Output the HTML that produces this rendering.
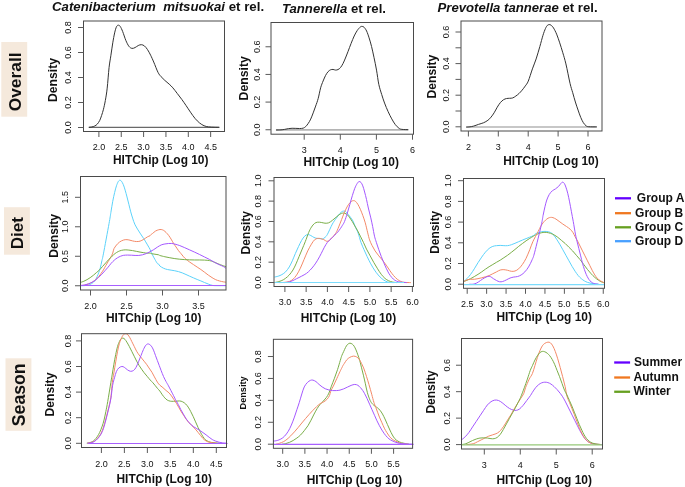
<!DOCTYPE html>
<html><head><meta charset="utf-8"><style>
html,body{margin:0;padding:0;background:#fff;}
body{width:685px;height:487px;overflow:hidden;font-family:"Liberation Sans", sans-serif;}
svg{display:block;will-change:transform;}
text{font-family:"Liberation Sans", sans-serif;}
</style></head><body>
<svg width="685" height="487" viewBox="0 0 685 487">
<rect width="100%" height="100%" fill="#fff"/>
<rect x="1.3" y="42" width="25.90" height="74.70" fill="#f5e9dc"/>
<text transform="translate(20.6,81.85) rotate(-90)" text-anchor="middle" font-weight="bold" font-size="17.4" fill="#111">Overall</text>
<rect x="4" y="207.2" width="25.90" height="47.50" fill="#f5e9dc"/>
<text transform="translate(23.3,233.1) rotate(-90)" text-anchor="middle" font-weight="bold" font-size="17.1" fill="#111">Diet</text>
<rect x="5.5" y="358.3" width="25.90" height="72.50" fill="#f5e9dc"/>
<text transform="translate(25.2,394.8) rotate(-90)" text-anchor="middle" font-weight="bold" font-size="17.7" fill="#111">Season</text>
<text x="52" y="11" font-weight="bold" font-size="13.25" fill="#111"><tspan font-style="italic">Catenibacterium&#160; mitsuokai</tspan> et rel.</text>
<text x="282" y="12.5" font-weight="bold" font-size="13.15" fill="#111"><tspan font-style="italic">Tannerella</tspan> et rel.</text>
<text x="437.6" y="11.5" font-weight="bold" font-size="13.15" fill="#111"><tspan font-style="italic">Prevotella tannerae</tspan> et rel.</text>
<line x1="88.7" y1="127.3" x2="219.3" y2="127.3" stroke="#444" stroke-width="1"/>
<clipPath id="c11"><rect x="83.0" y="21.0" width="142.0" height="110.5"/></clipPath>
<g clip-path="url(#c11)" fill="none" stroke-width="1" stroke-linejoin="round">
<path d="M88.96,127.34 C89.41,127.28 90.72,127.20 91.69,126.97 C92.66,126.74 93.86,126.45 94.79,125.98 C95.72,125.51 96.44,125.05 97.27,124.12 C98.10,123.19 99.03,121.84 99.75,120.39 C100.47,118.94 100.99,117.29 101.61,115.43 C102.23,113.57 102.85,111.71 103.47,109.23 C104.09,106.75 104.72,104.06 105.34,100.54 C105.96,97.02 106.58,93.61 107.20,88.13 C107.82,82.65 108.44,73.12 109.06,67.64 C109.68,62.16 110.30,59.37 110.92,55.23 C111.54,51.09 112.16,46.54 112.78,42.82 C113.40,39.10 114.02,35.58 114.64,32.89 C115.26,30.20 115.88,27.97 116.50,26.69 C117.12,25.41 117.74,25.24 118.36,25.20 C118.98,25.16 119.51,25.37 120.23,26.44 C120.95,27.52 121.78,29.33 122.71,31.65 C123.64,33.97 124.78,37.90 125.81,40.34 C126.84,42.78 127.88,44.95 128.91,46.29 C129.94,47.63 130.97,48.19 132.01,48.40 C133.04,48.61 134.09,48.01 135.12,47.53 C136.16,47.05 137.19,46.02 138.22,45.55 C139.25,45.07 140.29,44.62 141.32,44.68 C142.35,44.74 143.38,45.09 144.42,45.92 C145.45,46.75 146.50,48.09 147.53,49.64 C148.56,51.19 149.60,53.16 150.63,55.23 C151.66,57.30 152.50,59.20 153.73,62.05 C154.96,64.90 156.76,69.90 157.99,72.34 C159.22,74.78 159.95,75.34 161.09,76.68 C162.23,78.02 163.47,79.16 164.82,80.40 C166.16,81.64 167.82,82.88 169.16,84.12 C170.50,85.36 171.53,86.30 172.88,87.85 C174.22,89.40 175.74,91.50 177.23,93.43 C178.72,95.36 180.36,97.44 181.82,99.44 C183.28,101.44 184.53,103.28 185.98,105.41 C187.42,107.53 188.99,110.02 190.49,112.19 C192.00,114.36 193.50,116.61 195.01,118.40 C196.52,120.19 198.02,121.70 199.53,122.92 C201.04,124.14 202.55,125.08 204.05,125.74 C205.56,126.40 206.87,126.62 208.56,126.87 C210.25,127.12 212.42,127.13 214.21,127.21 C216.00,127.28 218.44,127.30 219.29,127.32" stroke="#333" stroke-width="1"/>
</g>
<rect x="83.5" y="21.0" width="141.0" height="110.5" fill="none" stroke="#4a4a4a" stroke-width="1"/>
<line x1="78.0" y1="127.50" x2="83.5" y2="127.50" stroke="#5a5a5a" stroke-width="1"/>
<line x1="78.0" y1="102.50" x2="83.5" y2="102.50" stroke="#5a5a5a" stroke-width="1"/>
<line x1="78.0" y1="77.50" x2="83.5" y2="77.50" stroke="#5a5a5a" stroke-width="1"/>
<line x1="78.0" y1="52.50" x2="83.5" y2="52.50" stroke="#5a5a5a" stroke-width="1"/>
<line x1="78.0" y1="27.50" x2="83.5" y2="27.50" stroke="#5a5a5a" stroke-width="1"/>
<text transform="translate(71.3,127.50) rotate(-90) scale(1,1.08)" text-anchor="middle" font-size="9" fill="#111">0.0</text>
<text transform="translate(71.3,102.50) rotate(-90) scale(1,1.08)" text-anchor="middle" font-size="9" fill="#111">0.2</text>
<text transform="translate(71.3,77.50) rotate(-90) scale(1,1.08)" text-anchor="middle" font-size="9" fill="#111">0.4</text>
<text transform="translate(71.3,52.50) rotate(-90) scale(1,1.08)" text-anchor="middle" font-size="9" fill="#111">0.6</text>
<text transform="translate(71.3,27.50) rotate(-90) scale(1,1.08)" text-anchor="middle" font-size="9" fill="#111">0.8</text>
<line x1="98.90" y1="131.5" x2="98.90" y2="137.0" stroke="#5a5a5a" stroke-width="1"/>
<text x="98.90" y="150" text-anchor="middle" font-size="9" fill="#111">2.0</text>
<line x1="121.25" y1="131.5" x2="121.25" y2="137.0" stroke="#5a5a5a" stroke-width="1"/>
<text x="121.25" y="150" text-anchor="middle" font-size="9" fill="#111">2.5</text>
<line x1="143.60" y1="131.5" x2="143.60" y2="137.0" stroke="#5a5a5a" stroke-width="1"/>
<text x="143.60" y="150" text-anchor="middle" font-size="9" fill="#111">3.0</text>
<line x1="165.95" y1="131.5" x2="165.95" y2="137.0" stroke="#5a5a5a" stroke-width="1"/>
<text x="165.95" y="150" text-anchor="middle" font-size="9" fill="#111">3.5</text>
<line x1="188.30" y1="131.5" x2="188.30" y2="137.0" stroke="#5a5a5a" stroke-width="1"/>
<text x="188.30" y="150" text-anchor="middle" font-size="9" fill="#111">4.0</text>
<line x1="210.65" y1="131.5" x2="210.65" y2="137.0" stroke="#5a5a5a" stroke-width="1"/>
<text x="210.65" y="150" text-anchor="middle" font-size="9" fill="#111">4.5</text>
<text transform="translate(57.2,80) rotate(-90)" text-anchor="middle" font-weight="bold" font-size="12.2" fill="#111">Density</text>
<text x="113" y="163.8" font-weight="bold" font-size="11.95" fill="#111">HITChip (Log 10)</text>
<line x1="276.1" y1="129.9" x2="408.3" y2="129.9" stroke="#b4b4b4" stroke-width="1.7"/>
<clipPath id="c12"><rect x="270.5" y="22.5" width="143.5" height="111.69999999999999"/></clipPath>
<g clip-path="url(#c12)" fill="none" stroke-width="1" stroke-linejoin="round">
<path d="M275.96,130.01 C276.79,129.99 279.48,129.98 280.93,129.88 C282.38,129.78 283.41,129.60 284.65,129.39 C285.89,129.18 287.13,128.83 288.37,128.64 C289.61,128.45 290.85,128.31 292.09,128.27 C293.33,128.23 294.58,128.35 295.82,128.39 C297.06,128.43 298.30,128.56 299.54,128.52 C300.78,128.48 302.23,128.48 303.26,128.15 C304.29,127.82 304.91,127.32 305.74,126.53 C306.57,125.74 307.40,124.67 308.23,123.43 C309.06,122.19 309.88,120.85 310.71,119.09 C311.54,117.33 312.36,115.05 313.19,112.88 C314.02,110.71 314.84,108.44 315.67,106.06 C316.50,103.68 317.32,101.65 318.15,98.61 C318.98,95.57 319.81,90.75 320.64,87.81 C321.47,84.87 322.29,83.06 323.12,80.99 C323.95,78.92 324.77,76.95 325.60,75.40 C326.43,73.85 327.25,72.61 328.08,71.68 C328.91,70.75 329.73,70.19 330.56,69.82 C331.39,69.45 332.21,69.41 333.04,69.45 C333.87,69.49 334.70,70.05 335.53,70.07 C336.36,70.09 337.18,69.98 338.01,69.57 C338.84,69.16 339.66,68.57 340.49,67.58 C341.32,66.59 342.14,65.20 342.97,63.61 C343.80,62.02 344.62,60.02 345.45,58.03 C346.28,56.04 347.02,54.09 347.96,51.66 C348.90,49.23 350.05,46.05 351.09,43.44 C352.13,40.83 353.16,38.16 354.20,35.99 C355.24,33.82 356.27,31.92 357.30,30.41 C358.33,28.90 359.57,27.59 360.40,26.93 C361.23,26.27 361.64,26.38 362.26,26.44 C362.88,26.50 363.39,26.54 364.12,27.31 C364.85,28.07 365.78,29.27 366.61,31.03 C367.44,32.79 368.26,35.27 369.09,37.85 C369.92,40.44 370.74,43.23 371.57,46.54 C372.40,49.85 373.22,53.78 374.05,57.71 C374.88,61.64 375.74,65.68 376.53,70.12 C377.32,74.56 377.95,80.32 378.81,84.37 C379.67,88.42 380.72,91.33 381.68,94.44 C382.64,97.55 383.48,100.19 384.56,103.06 C385.64,105.93 386.95,109.05 388.15,111.68 C389.35,114.32 390.55,116.71 391.75,118.87 C392.95,121.03 394.14,123.06 395.34,124.62 C396.54,126.18 397.85,127.42 398.93,128.21 C400.01,129.00 400.25,129.12 401.81,129.36 C403.37,129.60 407.20,129.60 408.28,129.65" stroke="#333" stroke-width="1"/>
</g>
<rect x="271.0" y="22.5" width="142.5" height="111.69999999999999" fill="none" stroke="#4a4a4a" stroke-width="1"/>
<line x1="265.5" y1="129.75" x2="271.0" y2="129.75" stroke="#5a5a5a" stroke-width="1"/>
<line x1="265.5" y1="102.09" x2="271.0" y2="102.09" stroke="#5a5a5a" stroke-width="1"/>
<line x1="265.5" y1="74.43" x2="271.0" y2="74.43" stroke="#5a5a5a" stroke-width="1"/>
<line x1="265.5" y1="46.77" x2="271.0" y2="46.77" stroke="#5a5a5a" stroke-width="1"/>
<text transform="translate(259.5,129.75) rotate(-90) scale(1,1.08)" text-anchor="middle" font-size="9" fill="#111">0.0</text>
<text transform="translate(259.5,102.09) rotate(-90) scale(1,1.08)" text-anchor="middle" font-size="9" fill="#111">0.2</text>
<text transform="translate(259.5,74.43) rotate(-90) scale(1,1.08)" text-anchor="middle" font-size="9" fill="#111">0.4</text>
<text transform="translate(259.5,46.77) rotate(-90) scale(1,1.08)" text-anchor="middle" font-size="9" fill="#111">0.6</text>
<line x1="304.20" y1="134.2" x2="304.20" y2="139.7" stroke="#5a5a5a" stroke-width="1"/>
<text x="304.20" y="152.7" text-anchor="middle" font-size="9" fill="#111">3</text>
<line x1="340.30" y1="134.2" x2="340.30" y2="139.7" stroke="#5a5a5a" stroke-width="1"/>
<text x="340.30" y="152.7" text-anchor="middle" font-size="9" fill="#111">4</text>
<line x1="376.40" y1="134.2" x2="376.40" y2="139.7" stroke="#5a5a5a" stroke-width="1"/>
<text x="376.40" y="152.7" text-anchor="middle" font-size="9" fill="#111">5</text>
<line x1="412.50" y1="134.2" x2="412.50" y2="139.7" stroke="#5a5a5a" stroke-width="1"/>
<text x="412.50" y="152.7" text-anchor="middle" font-size="9" fill="#111">6</text>
<text transform="translate(247.7,78.3) rotate(-90)" text-anchor="middle" font-weight="bold" font-size="12.25" fill="#111">Density</text>
<text x="303.5" y="165.7" font-weight="bold" font-size="11.95" fill="#111">HITChip (Log 10)</text>
<line x1="466.2" y1="127.0" x2="596.8" y2="127.0" stroke="#b4b4b4" stroke-width="1.7"/>
<clipPath id="c13"><rect x="460.5" y="21.0" width="142.0" height="110.0"/></clipPath>
<g clip-path="url(#c13)" fill="none" stroke-width="1" stroke-linejoin="round">
<path d="M466.20,127.08 C466.82,127.04 468.69,127.00 469.93,126.83 C471.17,126.66 472.20,126.50 473.65,126.09 C475.10,125.68 476.96,124.91 478.61,124.35 C480.26,123.79 482.03,123.42 483.58,122.74 C485.13,122.06 486.68,121.19 487.92,120.26 C489.16,119.33 489.99,118.39 491.02,117.15 C492.05,115.91 493.08,114.46 494.12,112.81 C495.16,111.16 496.20,108.93 497.23,107.23 C498.26,105.53 499.30,103.88 500.33,102.64 C501.36,101.40 502.40,100.46 503.43,99.78 C504.46,99.10 505.50,98.79 506.53,98.54 C507.56,98.29 508.60,98.39 509.64,98.29 C510.68,98.19 511.71,98.29 512.74,97.92 C513.77,97.55 514.81,96.78 515.84,96.06 C516.87,95.34 517.91,94.55 518.94,93.58 C519.97,92.61 521.00,91.47 522.04,90.23 C523.07,88.99 524.12,87.64 525.15,86.13 C526.18,84.62 527.04,84.05 528.25,81.17 C529.46,78.30 531.10,72.58 532.41,68.88 C533.72,65.18 534.89,62.67 536.13,58.95 C537.37,55.23 538.71,50.47 539.85,46.54 C540.99,42.61 542.03,38.37 542.96,35.37 C543.89,32.37 544.72,30.20 545.44,28.55 C546.16,26.90 546.68,26.11 547.30,25.45 C547.92,24.79 548.54,24.62 549.16,24.58 C549.78,24.54 550.30,24.64 551.02,25.20 C551.74,25.76 552.57,26.44 553.50,27.93 C554.43,29.42 555.58,31.65 556.61,34.13 C557.64,36.61 558.68,39.72 559.71,42.82 C560.74,45.92 561.78,49.23 562.81,52.74 C563.84,56.26 564.70,58.81 565.91,63.91 C567.12,69.01 568.91,78.55 570.04,83.35 C571.17,88.15 571.82,89.58 572.71,92.69 C573.60,95.80 574.49,99.14 575.38,102.03 C576.27,104.92 577.16,107.48 578.05,110.04 C578.94,112.60 579.83,115.27 580.72,117.38 C581.61,119.49 582.50,121.32 583.39,122.72 C584.28,124.12 585.17,125.12 586.06,125.79 C586.95,126.46 586.95,126.54 588.73,126.72 C590.51,126.90 595.40,126.84 596.74,126.86" stroke="#333" stroke-width="1"/>
</g>
<rect x="461.0" y="21.0" width="141.0" height="110.0" fill="none" stroke="#4a4a4a" stroke-width="1"/>
<line x1="455.5" y1="126.80" x2="461.0" y2="126.80" stroke="#5a5a5a" stroke-width="1"/>
<line x1="455.5" y1="111.00" x2="461.0" y2="111.00" stroke="#5a5a5a" stroke-width="1"/>
<line x1="455.5" y1="95.20" x2="461.0" y2="95.20" stroke="#5a5a5a" stroke-width="1"/>
<line x1="455.5" y1="79.40" x2="461.0" y2="79.40" stroke="#5a5a5a" stroke-width="1"/>
<line x1="455.5" y1="63.60" x2="461.0" y2="63.60" stroke="#5a5a5a" stroke-width="1"/>
<line x1="455.5" y1="47.80" x2="461.0" y2="47.80" stroke="#5a5a5a" stroke-width="1"/>
<line x1="455.5" y1="32.00" x2="461.0" y2="32.00" stroke="#5a5a5a" stroke-width="1"/>
<text transform="translate(448.5,126.80) rotate(-90) scale(1,1.08)" text-anchor="middle" font-size="9" fill="#111">0.0</text>
<text transform="translate(448.5,95.20) rotate(-90) scale(1,1.08)" text-anchor="middle" font-size="9" fill="#111">0.2</text>
<text transform="translate(448.5,63.60) rotate(-90) scale(1,1.08)" text-anchor="middle" font-size="9" fill="#111">0.4</text>
<text transform="translate(448.5,32.00) rotate(-90) scale(1,1.08)" text-anchor="middle" font-size="9" fill="#111">0.6</text>
<line x1="468.40" y1="131.0" x2="468.40" y2="136.5" stroke="#5a5a5a" stroke-width="1"/>
<text x="468.40" y="149.5" text-anchor="middle" font-size="9" fill="#111">2</text>
<line x1="498.30" y1="131.0" x2="498.30" y2="136.5" stroke="#5a5a5a" stroke-width="1"/>
<text x="498.30" y="149.5" text-anchor="middle" font-size="9" fill="#111">3</text>
<line x1="528.20" y1="131.0" x2="528.20" y2="136.5" stroke="#5a5a5a" stroke-width="1"/>
<text x="528.20" y="149.5" text-anchor="middle" font-size="9" fill="#111">4</text>
<line x1="558.10" y1="131.0" x2="558.10" y2="136.5" stroke="#5a5a5a" stroke-width="1"/>
<text x="558.10" y="149.5" text-anchor="middle" font-size="9" fill="#111">5</text>
<line x1="588.00" y1="131.0" x2="588.00" y2="136.5" stroke="#5a5a5a" stroke-width="1"/>
<text x="588.00" y="149.5" text-anchor="middle" font-size="9" fill="#111">6</text>
<text transform="translate(436.2,76.6) rotate(-90)" text-anchor="middle" font-weight="bold" font-size="12.1" fill="#111">Density</text>
<text x="503.25" y="164.7" font-weight="bold" font-size="11.95" fill="#111">HITChip (Log 10)</text>
<clipPath id="c21"><rect x="80.0" y="176.5" width="146.5" height="113.5"/></clipPath>
<g clip-path="url(#c21)" fill="none" stroke-width="1" stroke-linejoin="round">
<path d="M80.78,285.74 C81.43,285.71 83.38,285.69 84.68,285.58 C85.98,285.47 87.41,285.45 88.58,285.11 C89.75,284.77 90.66,284.26 91.70,283.55 C92.74,282.84 93.92,281.99 94.83,280.82 C95.74,279.65 96.52,277.89 97.17,276.53 C97.82,275.16 98.21,274.06 98.73,272.63 C99.25,271.20 99.77,269.90 100.29,267.95 C100.81,266.00 101.33,263.26 101.85,260.92 C102.37,258.58 102.22,260.11 103.41,253.90 C104.60,247.69 107.77,230.54 109.02,223.64 C110.27,216.73 110.26,216.19 110.88,212.47 C111.50,208.75 112.12,204.61 112.74,201.30 C113.36,197.99 113.99,195.20 114.61,192.61 C115.23,190.03 115.85,187.65 116.47,185.79 C117.09,183.93 117.75,182.38 118.33,181.45 C118.91,180.52 119.42,180.24 119.94,180.20 C120.46,180.16 120.87,180.47 121.43,181.20 C121.99,181.92 122.67,183.06 123.29,184.55 C123.91,186.04 124.53,188.06 125.15,190.13 C125.77,192.20 126.39,194.58 127.01,196.96 C127.63,199.34 128.26,201.92 128.88,204.40 C129.50,206.88 130.12,209.57 130.74,211.85 C131.36,214.12 131.88,215.88 132.60,218.05 C133.32,220.22 133.84,222.37 135.08,224.88 C136.32,227.39 138.59,230.80 140.04,233.10 C141.49,235.40 142.53,236.72 143.77,238.69 C145.01,240.66 146.45,243.12 147.49,244.89 C148.53,246.66 149.38,248.07 150.00,249.31 C150.62,250.55 150.80,251.41 151.21,252.34 C151.62,253.27 151.86,253.69 152.48,254.89 C153.10,256.08 154.12,258.06 154.95,259.51 C155.78,260.96 156.83,262.81 157.45,263.58 C158.07,264.35 158.25,263.71 158.66,264.12 C159.07,264.53 159.10,265.37 159.93,266.06 C160.76,266.75 162.41,267.71 163.65,268.29 C164.89,268.87 166.13,269.22 167.37,269.53 C168.61,269.84 169.85,269.94 171.09,270.15 C172.33,270.36 173.58,270.52 174.82,270.77 C176.06,271.02 177.30,271.29 178.54,271.64 C179.78,271.99 181.02,272.40 182.26,272.88 C183.50,273.36 184.75,273.94 185.99,274.50 C187.23,275.06 188.47,275.67 189.71,276.23 C190.95,276.79 192.19,277.31 193.43,277.85 C194.67,278.39 195.91,278.94 197.15,279.46 C198.39,279.98 199.64,280.43 200.88,280.95 C202.12,281.47 203.36,282.04 204.60,282.56 C205.84,283.08 207.08,283.60 208.32,284.05 C209.56,284.50 210.80,285.02 212.04,285.29 C213.28,285.56 213.45,285.60 215.77,285.66 C218.09,285.72 224.25,285.66 225.94,285.66" stroke="#5cd2fa" stroke-width="1"/>
<path d="M80.78,285.50 C81.43,285.44 83.38,285.37 84.68,285.11 C85.98,284.85 87.28,284.46 88.58,283.94 C89.88,283.42 91.31,282.71 92.48,281.99 C93.65,281.27 94.57,280.56 95.61,279.65 C96.65,278.74 97.82,277.57 98.73,276.53 C99.64,275.49 100.29,274.52 101.07,273.41 C101.85,272.31 102.63,271.20 103.41,269.90 C104.19,268.60 104.97,266.98 105.75,265.61 C106.53,264.24 107.31,263.00 108.09,261.70 C108.87,260.40 109.65,259.23 110.43,257.80 C111.21,256.37 112.18,254.65 112.77,253.12 C113.36,251.59 113.17,250.19 113.99,248.61 C114.81,247.03 116.47,244.93 117.71,243.65 C118.95,242.37 120.19,241.58 121.43,240.92 C122.67,240.26 123.91,239.84 125.15,239.68 C126.39,239.52 127.64,239.72 128.88,239.93 C130.12,240.14 131.36,240.65 132.60,240.92 C133.84,241.19 135.08,241.50 136.32,241.54 C137.56,241.58 138.80,241.54 140.04,241.17 C141.28,240.80 142.53,240.03 143.77,239.31 C145.01,238.59 146.45,237.41 147.49,236.82 C148.53,236.22 149.38,236.15 150.00,235.74 C150.62,235.33 150.80,234.71 151.21,234.34 C151.62,233.97 151.75,234.05 152.48,233.50 C153.21,232.95 154.55,231.64 155.58,231.02 C156.62,230.40 157.76,230.03 158.69,229.78 C159.62,229.53 160.34,229.43 161.17,229.53 C162.00,229.63 162.82,229.90 163.65,230.40 C164.48,230.90 165.30,231.68 166.13,232.51 C166.96,233.34 167.78,234.26 168.61,235.36 C169.44,236.46 170.26,237.75 171.09,239.09 C171.92,240.44 172.75,242.11 173.58,243.43 C174.41,244.75 175.23,245.78 176.06,246.99 C176.89,248.20 177.71,249.60 178.54,250.71 C179.37,251.82 180.19,252.64 181.02,253.65 C181.85,254.66 182.67,255.82 183.50,256.75 C184.33,257.68 184.96,258.34 185.99,259.23 C187.03,260.12 188.47,261.20 189.71,262.09 C190.95,262.98 192.19,263.74 193.43,264.57 C194.67,265.40 195.91,266.22 197.15,267.05 C198.39,267.88 199.64,268.66 200.88,269.53 C202.12,270.40 203.36,271.33 204.60,272.26 C205.84,273.19 207.08,274.23 208.32,275.12 C209.56,276.01 210.80,276.84 212.04,277.60 C213.28,278.37 214.53,279.15 215.77,279.71 C217.01,280.27 218.25,280.60 219.49,280.95 C220.73,281.30 222.14,281.61 223.21,281.82 C224.28,282.03 225.49,282.13 225.94,282.19" stroke="#f38a68" stroke-width="1"/>
<path d="M80.78,282.38 C81.30,282.19 82.86,281.66 83.90,281.21 C84.94,280.75 85.98,280.23 87.02,279.65 C88.06,279.06 89.10,278.41 90.14,277.70 C91.18,276.99 92.22,276.21 93.26,275.36 C94.30,274.51 95.35,273.54 96.39,272.63 C97.43,271.72 98.47,270.94 99.51,269.90 C100.55,268.86 101.59,267.56 102.63,266.39 C103.67,265.22 104.71,264.04 105.75,262.87 C106.79,261.70 107.83,260.47 108.87,259.36 C109.91,258.25 110.95,257.22 111.99,256.24 C113.03,255.27 114.07,254.29 115.11,253.51 C116.15,252.73 117.19,252.08 118.23,251.56 C119.27,251.04 120.21,250.67 121.36,250.39 C122.51,250.10 123.90,249.90 125.15,249.85 C126.40,249.80 127.64,249.97 128.88,250.10 C130.12,250.22 131.36,250.39 132.60,250.60 C133.84,250.81 135.08,251.09 136.32,251.34 C137.56,251.59 138.80,251.86 140.04,252.09 C141.28,252.32 142.53,252.53 143.77,252.71 C145.01,252.90 146.45,253.15 147.49,253.20 C148.53,253.25 149.38,252.97 150.00,253.03 C150.62,253.09 150.39,253.38 151.21,253.58 C152.03,253.78 153.71,254.02 154.95,254.23 C156.19,254.44 157.83,254.61 158.66,254.82 C159.49,255.03 158.89,255.19 159.93,255.51 C160.97,255.83 163.24,256.38 164.89,256.75 C166.54,257.12 168.19,257.43 169.85,257.74 C171.50,258.05 173.16,258.36 174.82,258.61 C176.47,258.86 178.13,259.06 179.78,259.23 C181.43,259.40 183.09,259.51 184.74,259.61 C186.40,259.71 188.06,259.79 189.71,259.85 C191.37,259.91 193.01,259.96 194.67,259.98 C196.32,260.00 197.98,259.96 199.64,259.98 C201.29,260.00 202.95,260.00 204.60,260.10 C206.25,260.20 208.11,260.33 209.56,260.60 C211.01,260.87 212.04,261.27 213.28,261.72 C214.52,262.18 215.77,262.81 217.01,263.33 C218.25,263.85 219.24,264.26 220.73,264.82 C222.22,265.38 225.07,266.37 225.94,266.68" stroke="#7aae48" stroke-width="1"/>
<path d="M80.78,285.50 C81.43,285.41 83.38,285.25 84.68,284.96 C85.98,284.67 87.28,284.29 88.58,283.79 C89.88,283.30 91.31,282.62 92.48,281.99 C93.65,281.37 94.57,280.82 95.61,280.04 C96.65,279.26 97.69,278.29 98.73,277.31 C99.77,276.33 100.81,275.30 101.85,274.19 C102.89,273.08 103.93,271.85 104.97,270.68 C106.01,269.51 107.05,268.41 108.09,267.17 C109.13,265.93 110.17,264.43 111.21,263.26 C112.25,262.09 113.29,261.05 114.33,260.14 C115.37,259.23 116.41,258.45 117.45,257.80 C118.49,257.15 119.53,256.66 120.57,256.24 C121.61,255.83 122.52,255.50 123.70,255.31 C124.88,255.12 126.36,255.09 127.64,255.07 C128.92,255.05 130.12,255.13 131.36,255.19 C132.60,255.25 133.84,255.40 135.08,255.44 C136.32,255.48 137.56,255.54 138.80,255.44 C140.04,255.34 141.29,255.13 142.53,254.82 C143.77,254.51 145.01,254.10 146.25,253.58 C147.49,253.06 148.73,252.38 149.97,251.72 C151.21,251.06 152.47,250.41 153.71,249.64 C154.95,248.87 156.19,247.88 157.43,247.10 C158.67,246.32 159.93,245.48 161.17,244.96 C162.41,244.44 163.65,244.22 164.89,243.97 C166.13,243.72 167.47,243.55 168.61,243.47 C169.75,243.39 170.69,243.37 171.72,243.47 C172.75,243.57 173.48,243.74 174.82,244.09 C176.16,244.44 178.13,244.98 179.78,245.58 C181.43,246.18 183.09,246.97 184.74,247.69 C186.40,248.41 188.06,249.19 189.71,249.93 C191.37,250.68 193.01,251.39 194.67,252.16 C196.32,252.93 197.98,253.71 199.64,254.52 C201.29,255.33 202.95,256.17 204.60,257.00 C206.25,257.83 207.91,258.59 209.56,259.48 C211.22,260.37 212.88,261.45 214.53,262.34 C216.19,263.23 218.04,264.14 219.49,264.82 C220.94,265.50 222.14,265.85 223.21,266.43 C224.28,267.01 225.49,267.98 225.94,268.29" stroke="#a458ff" stroke-width="1"/>
</g>
<line x1="80.5" y1="285.5" x2="226" y2="285.5" stroke="#a860ff" stroke-width="1.15"/>
<rect x="80.5" y="176.5" width="145.5" height="113.5" fill="none" stroke="#4a4a4a" stroke-width="1"/>
<line x1="75.0" y1="285.75" x2="80.5" y2="285.75" stroke="#5a5a5a" stroke-width="1"/>
<line x1="75.0" y1="256.26" x2="80.5" y2="256.26" stroke="#5a5a5a" stroke-width="1"/>
<line x1="75.0" y1="226.78" x2="80.5" y2="226.78" stroke="#5a5a5a" stroke-width="1"/>
<line x1="75.0" y1="197.30" x2="80.5" y2="197.30" stroke="#5a5a5a" stroke-width="1"/>
<text transform="translate(67.5,285.75) rotate(-90) scale(1,1.08)" text-anchor="middle" font-size="9" fill="#111">0.0</text>
<text transform="translate(67.5,256.26) rotate(-90) scale(1,1.08)" text-anchor="middle" font-size="9" fill="#111">0.5</text>
<text transform="translate(67.5,226.78) rotate(-90) scale(1,1.08)" text-anchor="middle" font-size="9" fill="#111">1.0</text>
<text transform="translate(67.5,197.30) rotate(-90) scale(1,1.08)" text-anchor="middle" font-size="9" fill="#111">1.5</text>
<line x1="90.50" y1="290.0" x2="90.50" y2="295.5" stroke="#5a5a5a" stroke-width="1"/>
<text x="90.50" y="309" text-anchor="middle" font-size="9" fill="#111">2.0</text>
<line x1="126.50" y1="290.0" x2="126.50" y2="295.5" stroke="#5a5a5a" stroke-width="1"/>
<text x="126.50" y="309" text-anchor="middle" font-size="9" fill="#111">2.5</text>
<line x1="162.50" y1="290.0" x2="162.50" y2="295.5" stroke="#5a5a5a" stroke-width="1"/>
<text x="162.50" y="309" text-anchor="middle" font-size="9" fill="#111">3.0</text>
<line x1="198.50" y1="290.0" x2="198.50" y2="295.5" stroke="#5a5a5a" stroke-width="1"/>
<text x="198.50" y="309" text-anchor="middle" font-size="9" fill="#111">3.5</text>
<text transform="translate(58.2,235.8) rotate(-90)" text-anchor="middle" font-weight="bold" font-size="12.1" fill="#111">Density</text>
<text x="106" y="321.5" font-weight="bold" font-size="11.95" fill="#111">HITChip (Log 10)</text>
<clipPath id="c22"><rect x="273.5" y="177.5" width="140.5" height="109.0"/></clipPath>
<g clip-path="url(#c22)" fill="none" stroke-width="1" stroke-linejoin="round">
<path d="M274.46,277.06 C275.08,276.92 276.93,276.61 278.16,276.20 C279.39,275.79 280.63,275.32 281.86,274.60 C283.09,273.88 284.32,273.16 285.55,271.89 C286.78,270.62 288.12,268.81 289.25,266.96 C290.38,265.11 291.30,263.06 292.33,260.80 C293.36,258.54 294.38,255.77 295.41,253.41 C296.44,251.05 297.46,248.79 298.49,246.63 C299.52,244.47 300.54,242.22 301.57,240.47 C302.60,238.72 303.62,237.14 304.65,236.16 C305.68,235.18 306.70,234.66 307.73,234.56 C308.76,234.46 309.78,235.07 310.81,235.54 C311.84,236.01 312.86,236.92 313.89,237.39 C314.92,237.86 315.94,238.17 316.97,238.38 C318.00,238.59 319.13,238.54 320.05,238.62 C320.97,238.70 321.69,239.08 322.51,238.87 C323.33,238.66 324.16,238.15 324.98,237.39 C325.80,236.63 326.21,236.53 327.44,234.31 C328.67,232.09 330.93,226.68 332.37,224.05 C333.81,221.42 334.84,220.25 336.07,218.51 C337.30,216.76 338.71,214.76 339.76,213.58 C340.81,212.40 341.68,211.83 342.34,211.42 C343.00,211.01 343.19,211.11 343.70,211.11 C344.21,211.11 344.71,210.91 345.43,211.42 C346.15,211.93 347.17,213.22 348.01,214.19 C348.85,215.16 349.65,216.14 350.47,217.27 C351.29,218.40 352.07,219.24 352.94,220.97 C353.81,222.70 354.84,225.60 355.71,227.64 C356.58,229.67 357.30,230.73 358.17,233.18 C359.04,235.63 359.97,239.56 360.94,242.32 C361.91,245.07 362.99,247.35 364.02,249.71 C365.05,252.07 365.97,254.13 367.10,256.49 C368.23,258.85 369.57,261.62 370.80,263.88 C372.03,266.14 373.27,268.19 374.50,270.04 C375.73,271.89 376.96,273.53 378.19,274.97 C379.42,276.41 380.66,277.64 381.89,278.67 C383.12,279.70 384.36,280.51 385.59,281.13 C386.82,281.75 387.84,282.11 389.28,282.36 C390.72,282.61 393.39,282.57 394.21,282.61" stroke="#5cd2fa" stroke-width="1"/>
<path d="M274.46,282.61 C275.08,282.47 276.93,282.10 278.16,281.75 C279.39,281.40 280.63,281.08 281.86,280.51 C283.09,279.94 284.32,279.22 285.55,278.30 C286.78,277.38 288.02,276.35 289.25,274.97 C290.48,273.59 291.81,271.89 292.94,270.04 C294.07,268.19 294.99,266.14 296.02,263.88 C297.05,261.62 298.07,258.95 299.10,256.49 C300.13,254.03 301.15,251.56 302.18,249.10 C303.21,246.63 304.18,244.45 305.26,241.70 C306.34,238.94 307.62,235.00 308.65,232.57 C309.68,230.14 310.45,228.65 311.43,227.13 C312.41,225.61 313.48,224.25 314.51,223.43 C315.54,222.61 316.46,222.36 317.59,222.20 C318.72,222.04 320.05,222.28 321.28,222.45 C322.51,222.61 323.75,223.13 324.98,223.19 C326.21,223.25 327.44,223.29 328.67,222.82 C329.90,222.35 331.14,221.27 332.37,220.35 C333.60,219.43 334.82,218.30 336.07,217.27 C337.32,216.24 338.78,214.89 339.88,214.19 C340.98,213.49 341.81,213.22 342.65,213.08 C343.49,212.94 344.14,213.04 344.93,213.33 C345.72,213.62 346.57,214.05 347.39,214.81 C348.21,215.57 349.04,216.76 349.86,217.89 C350.68,219.02 351.50,220.25 352.32,221.59 C353.14,222.93 353.96,224.48 354.78,225.90 C355.60,227.32 356.32,228.39 357.25,230.10 C358.18,231.81 359.30,234.12 360.33,236.16 C361.36,238.20 362.38,240.16 363.41,242.32 C364.44,244.48 365.36,246.84 366.49,249.10 C367.62,251.36 368.95,253.61 370.18,255.87 C371.41,258.13 372.65,260.49 373.88,262.65 C375.11,264.81 376.35,266.86 377.58,268.81 C378.81,270.76 380.04,272.75 381.27,274.35 C382.50,275.95 383.74,277.35 384.97,278.42 C386.20,279.49 387.44,280.16 388.67,280.76 C389.90,281.36 391.03,281.68 392.36,281.99 C393.69,282.30 395.95,282.51 396.67,282.61" stroke="#7aae48" stroke-width="1"/>
<path d="M279.39,282.61 C280.21,282.57 282.68,282.55 284.32,282.36 C285.96,282.18 287.81,282.01 289.25,281.50 C290.69,280.99 291.71,280.37 292.94,279.28 C294.17,278.19 295.41,276.82 296.64,274.97 C297.87,273.12 299.11,270.76 300.34,268.19 C301.57,265.62 302.80,262.44 304.03,259.57 C305.26,256.69 306.50,253.51 307.73,250.94 C308.96,248.37 310.30,246.02 311.43,244.17 C312.56,242.32 313.48,240.83 314.51,239.86 C315.54,238.90 316.56,238.59 317.59,238.38 C318.62,238.17 319.64,238.41 320.67,238.62 C321.70,238.83 322.72,239.16 323.75,239.61 C324.78,240.06 325.91,241.19 326.83,241.33 C327.75,241.47 328.37,241.13 329.29,240.47 C330.21,239.81 331.34,238.52 332.37,237.39 C333.40,236.26 334.63,234.90 335.45,233.70 C336.27,232.50 336.51,231.97 337.30,230.21 C338.09,228.45 339.25,225.49 340.19,223.13 C341.13,220.77 342.07,218.25 342.96,216.04 C343.85,213.83 344.60,211.83 345.54,209.88 C346.48,207.93 347.59,205.78 348.62,204.34 C349.65,202.90 350.88,201.88 351.70,201.26 C352.52,200.64 352.93,200.64 353.55,200.64 C354.17,200.64 354.68,200.64 355.40,201.26 C356.12,201.88 357.04,203.01 357.86,204.34 C358.68,205.67 359.51,207.41 360.33,209.26 C361.15,211.11 361.97,213.17 362.79,215.43 C363.61,217.69 364.44,219.91 365.26,222.82 C366.08,225.73 367.00,230.04 367.72,232.88 C368.44,235.72 368.85,237.77 369.57,239.86 C370.29,241.95 371.11,243.55 372.03,245.40 C372.95,247.25 373.98,249.19 375.11,250.94 C376.24,252.69 377.58,254.33 378.81,255.87 C380.04,257.41 381.28,258.64 382.51,260.18 C383.74,261.72 384.97,263.36 386.20,265.11 C387.43,266.86 388.67,268.91 389.90,270.66 C391.13,272.41 392.36,274.15 393.59,275.59 C394.82,277.03 396.06,278.29 397.29,279.28 C398.52,280.26 399.76,280.99 400.99,281.50 C402.22,282.01 403.04,282.18 404.68,282.36 C406.32,282.55 409.81,282.57 410.84,282.61" stroke="#f38a68" stroke-width="1"/>
<path d="M284.32,282.61 C285.14,282.51 287.81,282.34 289.25,281.99 C290.69,281.64 291.71,281.06 292.94,280.51 C294.17,279.96 295.20,279.39 296.64,278.67 C298.08,277.95 299.93,277.08 301.57,276.20 C303.21,275.32 305.06,274.40 306.50,273.37 C307.94,272.34 308.96,271.31 310.19,270.04 C311.42,268.77 312.66,267.37 313.89,265.73 C315.12,264.09 316.36,262.23 317.59,260.18 C318.82,258.13 320.15,255.56 321.28,253.41 C322.41,251.25 323.33,249.10 324.36,247.25 C325.39,245.40 326.31,243.76 327.44,242.32 C328.57,240.88 329.91,239.85 331.14,238.62 C332.37,237.39 333.75,235.99 334.83,234.93 C335.91,233.87 336.67,233.35 337.61,232.26 C338.56,231.16 339.69,229.52 340.50,228.36 C341.31,227.20 341.79,226.41 342.46,225.28 C343.13,224.15 343.68,223.64 344.50,221.59 C345.32,219.54 346.50,215.84 347.39,212.96 C348.28,210.09 349.04,207.22 349.86,204.34 C350.68,201.47 351.50,198.38 352.32,195.71 C353.14,193.04 353.96,190.37 354.78,188.32 C355.60,186.27 356.53,184.52 357.25,183.39 C357.97,182.26 358.49,181.70 359.10,181.54 C359.72,181.38 360.32,181.69 360.94,182.41 C361.56,183.13 362.17,184.26 362.79,185.86 C363.41,187.46 364.02,189.76 364.64,192.02 C365.26,194.28 365.87,196.74 366.49,199.41 C367.11,202.08 367.62,204.95 368.34,208.03 C369.06,211.11 370.08,214.81 370.80,217.89 C371.52,220.97 372.03,223.46 372.65,226.51 C373.27,229.56 373.88,233.53 374.50,236.16 C375.12,238.79 375.62,240.06 376.34,242.32 C377.06,244.58 377.99,247.35 378.81,249.71 C379.63,252.07 380.45,254.33 381.27,256.49 C382.09,258.65 382.92,260.70 383.74,262.65 C384.56,264.60 385.38,266.44 386.20,268.19 C387.02,269.94 387.75,271.58 388.67,273.12 C389.60,274.66 390.72,276.24 391.75,277.43 C392.78,278.62 393.70,279.55 394.83,280.27 C395.96,280.99 397.19,281.40 398.52,281.75 C399.85,282.10 401.39,282.22 402.83,282.36 C404.27,282.50 406.43,282.57 407.15,282.61" stroke="#a458ff" stroke-width="1"/>
</g>
<line x1="274.5" y1="282.5" x2="404.0" y2="282.5" stroke="#7cdcfc" stroke-width="1.15"/>
<rect x="274.0" y="177.5" width="139.5" height="109.0" fill="none" stroke="#4a4a4a" stroke-width="1"/>
<line x1="268.5" y1="282.50" x2="274.0" y2="282.50" stroke="#5a5a5a" stroke-width="1"/>
<line x1="268.5" y1="262.16" x2="274.0" y2="262.16" stroke="#5a5a5a" stroke-width="1"/>
<line x1="268.5" y1="241.82" x2="274.0" y2="241.82" stroke="#5a5a5a" stroke-width="1"/>
<line x1="268.5" y1="221.48" x2="274.0" y2="221.48" stroke="#5a5a5a" stroke-width="1"/>
<line x1="268.5" y1="201.14" x2="274.0" y2="201.14" stroke="#5a5a5a" stroke-width="1"/>
<line x1="268.5" y1="180.80" x2="274.0" y2="180.80" stroke="#5a5a5a" stroke-width="1"/>
<text transform="translate(261,282.50) rotate(-90) scale(1,1.08)" text-anchor="middle" font-size="9" fill="#111">0.0</text>
<text transform="translate(261,262.16) rotate(-90) scale(1,1.08)" text-anchor="middle" font-size="9" fill="#111">0.2</text>
<text transform="translate(261,241.82) rotate(-90) scale(1,1.08)" text-anchor="middle" font-size="9" fill="#111">0.4</text>
<text transform="translate(261,221.48) rotate(-90) scale(1,1.08)" text-anchor="middle" font-size="9" fill="#111">0.6</text>
<text transform="translate(261,201.14) rotate(-90) scale(1,1.08)" text-anchor="middle" font-size="9" fill="#111">0.8</text>
<text transform="translate(261,180.80) rotate(-90) scale(1,1.08)" text-anchor="middle" font-size="9" fill="#111">1.0</text>
<line x1="284.90" y1="286.5" x2="284.90" y2="292.0" stroke="#5a5a5a" stroke-width="1"/>
<text x="284.90" y="305" text-anchor="middle" font-size="9" fill="#111">3.0</text>
<line x1="306.15" y1="286.5" x2="306.15" y2="292.0" stroke="#5a5a5a" stroke-width="1"/>
<text x="306.15" y="305" text-anchor="middle" font-size="9" fill="#111">3.5</text>
<line x1="327.40" y1="286.5" x2="327.40" y2="292.0" stroke="#5a5a5a" stroke-width="1"/>
<text x="327.40" y="305" text-anchor="middle" font-size="9" fill="#111">4.0</text>
<line x1="348.65" y1="286.5" x2="348.65" y2="292.0" stroke="#5a5a5a" stroke-width="1"/>
<text x="348.65" y="305" text-anchor="middle" font-size="9" fill="#111">4.5</text>
<line x1="369.90" y1="286.5" x2="369.90" y2="292.0" stroke="#5a5a5a" stroke-width="1"/>
<text x="369.90" y="305" text-anchor="middle" font-size="9" fill="#111">5.0</text>
<line x1="391.15" y1="286.5" x2="391.15" y2="292.0" stroke="#5a5a5a" stroke-width="1"/>
<text x="391.15" y="305" text-anchor="middle" font-size="9" fill="#111">5.5</text>
<line x1="412.40" y1="286.5" x2="412.40" y2="292.0" stroke="#5a5a5a" stroke-width="1"/>
<text x="412.40" y="305" text-anchor="middle" font-size="9" fill="#111">6.0</text>
<text transform="translate(250,232.75) rotate(-90)" text-anchor="middle" font-weight="bold" font-size="12.0" fill="#111">Density</text>
<text x="300.7" y="321.5" font-weight="bold" font-size="11.95" fill="#111">HITChip (Log 10)</text>
<clipPath id="c23"><rect x="463.0" y="178.5" width="142.0" height="109.80000000000001"/></clipPath>
<g clip-path="url(#c23)" fill="none" stroke-width="1" stroke-linejoin="round">
<path d="M463.48,281.75 C464.06,281.24 465.74,279.90 466.93,278.67 C468.12,277.44 469.39,275.99 470.62,274.35 C471.85,272.71 473.09,270.76 474.32,268.81 C475.55,266.86 476.79,264.60 478.02,262.65 C479.25,260.70 480.48,258.85 481.71,257.10 C482.94,255.36 484.18,253.62 485.41,252.18 C486.64,250.74 487.87,249.44 489.10,248.48 C490.33,247.51 491.57,246.86 492.80,246.39 C494.03,245.92 495.27,245.81 496.50,245.65 C497.73,245.49 498.96,245.40 500.19,245.40 C501.42,245.40 502.66,245.61 503.89,245.65 C505.12,245.69 506.36,245.80 507.59,245.65 C508.82,245.50 510.05,245.17 511.28,244.78 C512.51,244.39 513.75,243.82 514.98,243.31 C516.21,242.80 517.44,242.23 518.67,241.70 C519.90,241.16 521.14,240.61 522.37,240.10 C523.60,239.59 524.84,239.11 526.07,238.62 C527.30,238.13 528.53,237.66 529.76,237.15 C530.99,236.64 532.47,236.12 533.46,235.54 C534.45,234.96 534.71,234.25 535.70,233.70 C536.69,233.15 538.16,232.59 539.39,232.22 C540.62,231.85 541.86,231.60 543.09,231.48 C544.32,231.36 545.55,231.32 546.78,231.48 C548.01,231.64 549.35,231.88 550.48,232.46 C551.61,233.04 552.53,233.80 553.56,234.93 C554.59,236.06 555.61,237.70 556.64,239.24 C557.67,240.78 558.69,242.42 559.72,244.17 C560.75,245.91 561.77,247.86 562.80,249.71 C563.83,251.56 564.85,253.41 565.88,255.26 C566.91,257.11 567.93,258.95 568.96,260.80 C569.99,262.65 571.01,264.59 572.04,266.34 C573.07,268.08 574.09,269.73 575.12,271.27 C576.15,272.81 577.17,274.36 578.20,275.59 C579.23,276.82 580.25,277.79 581.28,278.67 C582.31,279.55 583.33,280.26 584.36,280.88 C585.39,281.50 586.31,281.95 587.44,282.36 C588.57,282.77 589.91,283.10 591.14,283.35 C592.37,283.60 593.60,283.70 594.83,283.84 C596.06,283.98 597.91,284.15 598.53,284.21" stroke="#5cd2fa" stroke-width="1"/>
<path d="M463.48,281.75 C464.06,281.50 465.74,280.78 466.93,280.27 C468.12,279.76 469.39,279.29 470.62,278.67 C471.85,278.05 473.09,277.29 474.32,276.57 C475.55,275.85 476.79,275.13 478.02,274.35 C479.25,273.57 480.48,272.75 481.71,271.89 C482.94,271.03 484.18,270.04 485.41,269.18 C486.64,268.32 487.87,267.49 489.10,266.71 C490.33,265.93 491.57,265.24 492.80,264.50 C494.03,263.76 495.27,263.00 496.50,262.28 C497.73,261.56 498.96,260.94 500.19,260.18 C501.42,259.42 502.66,258.54 503.89,257.72 C505.12,256.90 506.36,256.14 507.59,255.26 C508.82,254.38 510.05,253.38 511.28,252.42 C512.51,251.45 513.75,250.47 514.98,249.47 C516.21,248.47 517.44,247.38 518.67,246.39 C519.90,245.40 521.14,244.48 522.37,243.55 C523.60,242.62 524.84,241.70 526.07,240.84 C527.30,239.98 528.53,239.16 529.76,238.38 C530.99,237.60 532.47,236.73 533.46,236.16 C534.45,235.59 534.71,235.40 535.70,234.93 C536.69,234.46 538.16,233.74 539.39,233.33 C540.62,232.92 541.86,232.61 543.09,232.46 C544.32,232.31 545.55,232.31 546.78,232.46 C548.01,232.61 549.25,232.92 550.48,233.33 C551.71,233.74 552.95,234.25 554.18,234.93 C555.41,235.61 556.64,236.47 557.87,237.39 C559.10,238.31 560.34,239.44 561.57,240.47 C562.80,241.50 564.03,242.42 565.26,243.55 C566.49,244.68 567.73,246.02 568.96,247.25 C570.19,248.48 571.43,249.60 572.66,250.94 C573.89,252.28 575.12,253.82 576.35,255.26 C577.58,256.70 578.82,258.03 580.05,259.57 C581.28,261.11 582.52,262.86 583.75,264.50 C584.98,266.14 586.21,267.89 587.44,269.43 C588.67,270.97 589.91,272.41 591.14,273.74 C592.37,275.07 593.60,276.34 594.83,277.43 C596.06,278.52 597.40,279.51 598.53,280.27 C599.66,281.03 600.58,281.54 601.61,281.99 C602.64,282.44 604.18,282.81 604.69,282.98" stroke="#7aae48" stroke-width="1"/>
<path d="M463.48,281.75 C464.06,281.44 465.74,280.31 466.93,279.90 C468.12,279.49 469.39,279.38 470.62,279.28 C471.85,279.18 473.09,279.38 474.32,279.28 C475.55,279.18 476.79,278.92 478.02,278.67 C479.25,278.42 480.48,278.11 481.71,277.80 C482.94,277.49 484.18,277.19 485.41,276.82 C486.64,276.45 487.87,276.10 489.10,275.59 C490.33,275.08 491.57,274.36 492.80,273.74 C494.03,273.12 495.27,272.51 496.50,271.89 C497.73,271.27 498.96,270.41 500.19,270.04 C501.42,269.67 502.66,269.63 503.89,269.67 C505.12,269.71 506.36,270.02 507.59,270.29 C508.82,270.56 510.05,271.15 511.28,271.27 C512.51,271.39 513.75,271.44 514.98,271.03 C516.21,270.62 517.44,269.90 518.67,268.81 C519.90,267.72 521.14,266.25 522.37,264.50 C523.60,262.75 524.84,260.80 526.07,258.34 C527.30,255.87 528.63,252.48 529.76,249.71 C530.89,246.94 531.44,244.75 532.84,241.70 C534.24,238.65 536.86,233.97 538.16,231.44 C539.46,228.91 539.80,227.95 540.62,226.51 C541.44,225.07 542.27,223.89 543.09,222.82 C543.91,221.75 544.73,220.87 545.55,220.11 C546.37,219.35 547.20,218.71 548.02,218.26 C548.84,217.81 549.66,217.50 550.48,217.40 C551.30,217.30 552.02,217.35 552.94,217.64 C553.86,217.93 554.99,218.50 556.02,219.12 C557.05,219.74 557.97,220.52 559.10,221.34 C560.23,222.16 561.57,223.19 562.80,224.05 C564.03,224.91 565.27,225.65 566.50,226.51 C567.73,227.37 569.11,228.21 570.19,229.22 C571.27,230.23 572.15,231.31 572.97,232.57 C573.79,233.83 574.35,235.36 575.12,236.78 C575.89,238.20 576.77,239.55 577.59,241.09 C578.41,242.63 579.23,244.38 580.05,246.02 C580.87,247.66 581.69,249.30 582.51,250.94 C583.33,252.58 584.16,254.23 584.98,255.87 C585.80,257.51 586.62,259.16 587.44,260.80 C588.26,262.44 589.09,264.09 589.91,265.73 C590.73,267.37 591.55,269.12 592.37,270.66 C593.19,272.20 594.01,273.70 594.83,274.97 C595.65,276.24 596.38,277.34 597.30,278.30 C598.22,279.26 599.35,280.08 600.38,280.76 C601.41,281.44 602.74,281.99 603.46,282.36 C604.18,282.73 604.49,282.88 604.69,282.98" stroke="#f38a68" stroke-width="1"/>
<path d="M469.39,284.21 C470.01,284.21 471.86,284.41 473.09,284.21 C474.32,284.00 475.55,283.60 476.78,282.98 C478.01,282.36 479.25,281.33 480.48,280.51 C481.71,279.69 482.95,278.73 484.18,278.05 C485.41,277.37 486.84,276.70 487.87,276.45 C488.90,276.20 489.41,276.20 490.34,276.57 C491.26,276.94 492.39,278.01 493.42,278.67 C494.45,279.33 495.47,280.00 496.50,280.51 C497.53,281.02 498.55,281.58 499.58,281.75 C500.61,281.92 501.53,281.81 502.66,281.50 C503.79,281.19 505.12,280.47 506.35,279.90 C507.58,279.32 508.82,278.52 510.05,278.05 C511.28,277.58 512.52,277.31 513.75,277.06 C514.98,276.81 516.21,276.92 517.44,276.57 C518.67,276.22 519.91,275.75 521.14,274.97 C522.37,274.19 523.60,273.23 524.83,271.89 C526.06,270.55 527.30,269.01 528.53,266.96 C529.76,264.91 531.20,262.03 532.23,259.57 C533.26,257.11 533.19,257.89 534.69,252.18 C536.19,246.47 539.84,231.41 541.24,225.28 C542.64,219.16 542.47,218.51 543.09,215.43 C543.71,212.35 544.33,209.37 544.94,206.80 C545.56,204.23 546.06,202.07 546.78,200.02 C547.50,197.97 548.33,196.02 549.25,194.48 C550.17,192.94 551.30,191.70 552.33,190.78 C553.36,189.86 554.38,189.66 555.41,188.94 C556.44,188.22 557.57,187.40 558.49,186.47 C559.41,185.54 560.27,184.11 560.95,183.39 C561.63,182.67 562.00,182.16 562.55,182.16 C563.10,182.16 563.72,182.57 564.28,183.39 C564.84,184.21 565.30,185.45 565.88,187.09 C566.46,188.73 567.11,190.79 567.73,193.25 C568.35,195.71 568.96,198.79 569.58,201.87 C570.20,204.95 570.81,208.44 571.43,211.73 C572.04,215.02 572.60,217.86 573.27,221.59 C573.94,225.32 574.81,230.86 575.43,234.11 C576.05,237.36 576.40,238.69 576.97,241.09 C577.54,243.49 578.20,246.02 578.82,248.48 C579.44,250.94 580.05,253.41 580.67,255.87 C581.28,258.33 581.89,261.00 582.51,263.26 C583.12,265.52 583.74,267.58 584.36,269.43 C584.98,271.28 585.59,272.91 586.21,274.35 C586.83,275.79 587.44,276.98 588.06,278.05 C588.68,279.12 589.19,279.98 589.91,280.76 C590.63,281.54 591.55,282.24 592.37,282.73 C593.19,283.22 593.80,283.47 594.83,283.72 C595.86,283.97 597.91,284.13 598.53,284.21" stroke="#a458ff" stroke-width="1"/>
</g>
<line x1="463.5" y1="284.55" x2="604.5" y2="284.55" stroke="#7cdcfc" stroke-width="1.15"/>
<rect x="463.5" y="178.5" width="141.0" height="109.80000000000001" fill="none" stroke="#4a4a4a" stroke-width="1"/>
<line x1="458.0" y1="284.20" x2="463.5" y2="284.20" stroke="#5a5a5a" stroke-width="1"/>
<line x1="458.0" y1="263.50" x2="463.5" y2="263.50" stroke="#5a5a5a" stroke-width="1"/>
<line x1="458.0" y1="242.80" x2="463.5" y2="242.80" stroke="#5a5a5a" stroke-width="1"/>
<line x1="458.0" y1="222.10" x2="463.5" y2="222.10" stroke="#5a5a5a" stroke-width="1"/>
<line x1="458.0" y1="201.40" x2="463.5" y2="201.40" stroke="#5a5a5a" stroke-width="1"/>
<line x1="458.0" y1="180.70" x2="463.5" y2="180.70" stroke="#5a5a5a" stroke-width="1"/>
<text transform="translate(451,284.20) rotate(-90) scale(1,1.08)" text-anchor="middle" font-size="9" fill="#111">0.0</text>
<text transform="translate(451,263.50) rotate(-90) scale(1,1.08)" text-anchor="middle" font-size="9" fill="#111">0.2</text>
<text transform="translate(451,242.80) rotate(-90) scale(1,1.08)" text-anchor="middle" font-size="9" fill="#111">0.4</text>
<text transform="translate(451,222.10) rotate(-90) scale(1,1.08)" text-anchor="middle" font-size="9" fill="#111">0.6</text>
<text transform="translate(451,201.40) rotate(-90) scale(1,1.08)" text-anchor="middle" font-size="9" fill="#111">0.8</text>
<text transform="translate(451,180.70) rotate(-90) scale(1,1.08)" text-anchor="middle" font-size="9" fill="#111">1.0</text>
<line x1="467.20" y1="288.3" x2="467.20" y2="293.8" stroke="#5a5a5a" stroke-width="1"/>
<text x="467.20" y="306.6" text-anchor="middle" font-size="9" fill="#111">2.5</text>
<line x1="486.63" y1="288.3" x2="486.63" y2="293.8" stroke="#5a5a5a" stroke-width="1"/>
<text x="486.63" y="306.6" text-anchor="middle" font-size="9" fill="#111">3.0</text>
<line x1="506.07" y1="288.3" x2="506.07" y2="293.8" stroke="#5a5a5a" stroke-width="1"/>
<text x="506.07" y="306.6" text-anchor="middle" font-size="9" fill="#111">3.5</text>
<line x1="525.50" y1="288.3" x2="525.50" y2="293.8" stroke="#5a5a5a" stroke-width="1"/>
<text x="525.50" y="306.6" text-anchor="middle" font-size="9" fill="#111">4.0</text>
<line x1="544.94" y1="288.3" x2="544.94" y2="293.8" stroke="#5a5a5a" stroke-width="1"/>
<text x="544.94" y="306.6" text-anchor="middle" font-size="9" fill="#111">4.5</text>
<line x1="564.38" y1="288.3" x2="564.38" y2="293.8" stroke="#5a5a5a" stroke-width="1"/>
<text x="564.38" y="306.6" text-anchor="middle" font-size="9" fill="#111">5.0</text>
<line x1="583.81" y1="288.3" x2="583.81" y2="293.8" stroke="#5a5a5a" stroke-width="1"/>
<text x="583.81" y="306.6" text-anchor="middle" font-size="9" fill="#111">5.5</text>
<line x1="603.25" y1="288.3" x2="603.25" y2="293.8" stroke="#5a5a5a" stroke-width="1"/>
<text x="603.25" y="306.6" text-anchor="middle" font-size="9" fill="#111">6.0</text>
<text transform="translate(438.5,232.25) rotate(-90)" text-anchor="middle" font-weight="bold" font-size="11.9" fill="#111">Density</text>
<text x="496.4" y="320.9" font-weight="bold" font-size="11.95" fill="#111">HITChip (Log 10)</text>
<clipPath id="c31"><rect x="81.0" y="333.7" width="146.0" height="113.80000000000001"/></clipPath>
<g clip-path="url(#c31)" fill="none" stroke-width="1" stroke-linejoin="round">
<path d="M86.78,443.20 C87.29,443.10 88.94,442.85 89.86,442.58 C90.78,442.31 91.50,442.06 92.32,441.59 C93.14,441.12 93.96,440.57 94.78,439.75 C95.60,438.93 96.43,437.90 97.25,436.67 C98.07,435.44 98.89,434.10 99.71,432.35 C100.53,430.60 101.46,428.24 102.18,426.19 C102.90,424.14 103.41,422.49 104.02,420.03 C104.63,417.57 105.25,414.49 105.87,411.41 C106.49,408.33 106.90,406.33 107.72,401.55 C108.54,396.77 110.04,387.32 110.80,382.75 C111.56,378.18 111.77,377.20 112.28,374.12 C112.79,371.04 113.30,367.54 113.88,364.26 C114.45,360.98 115.11,357.39 115.73,354.41 C116.35,351.43 116.96,348.56 117.58,346.40 C118.20,344.24 118.82,342.76 119.43,341.47 C120.05,340.18 120.66,339.19 121.27,338.64 C121.88,338.09 122.50,338.03 123.12,338.15 C123.74,338.27 124.35,338.72 124.97,339.38 C125.59,340.04 126.10,340.92 126.82,342.09 C127.54,343.26 128.46,344.86 129.28,346.40 C130.10,347.94 130.93,349.69 131.75,351.33 C132.57,352.97 133.39,354.62 134.21,356.26 C135.03,357.90 135.85,359.64 136.67,361.18 C137.49,362.72 138.32,364.17 139.14,365.50 C139.96,366.83 140.78,368.00 141.60,369.19 C142.42,370.38 143.14,371.45 144.07,372.64 C145.00,373.83 146.12,375.11 147.15,376.34 C148.18,377.57 149.27,378.96 150.23,380.03 C151.19,381.10 152.11,381.89 152.89,382.75 C153.67,383.61 154.18,384.29 154.93,385.21 C155.68,386.13 156.57,387.31 157.39,388.29 C158.21,389.27 159.04,390.00 159.86,391.08 C160.68,392.16 161.50,393.65 162.32,394.78 C163.14,395.91 163.96,396.98 164.78,397.86 C165.60,398.74 166.32,399.52 167.25,400.07 C168.18,400.62 169.30,400.97 170.33,401.18 C171.36,401.39 172.38,401.31 173.41,401.31 C174.44,401.31 175.46,401.24 176.49,401.18 C177.52,401.12 178.54,400.84 179.57,400.94 C180.60,401.04 181.62,401.29 182.65,401.80 C183.68,402.31 184.81,403.14 185.73,404.02 C186.65,404.90 187.37,405.87 188.19,407.10 C189.01,408.33 189.84,409.87 190.66,411.41 C191.48,412.95 192.30,414.59 193.12,416.34 C193.94,418.08 194.77,420.03 195.59,421.88 C196.41,423.73 197.23,425.69 198.05,427.43 C198.87,429.18 199.69,430.81 200.51,432.35 C201.33,433.89 202.16,435.44 202.98,436.67 C203.80,437.90 204.52,438.93 205.44,439.75 C206.36,440.57 207.49,441.14 208.52,441.59 C209.55,442.04 210.47,442.25 211.60,442.46 C212.73,442.67 214.07,442.73 215.30,442.83 C216.53,442.93 218.38,443.03 218.99,443.07" stroke="#7aae48" stroke-width="1"/>
<path d="M87.39,443.20 C88.01,443.10 89.86,442.95 91.09,442.58 C92.32,442.21 93.65,441.76 94.78,440.98 C95.91,440.20 96.83,439.13 97.86,437.90 C98.89,436.67 100.02,435.33 100.94,433.59 C101.86,431.84 102.59,429.89 103.41,427.43 C104.23,424.97 105.05,421.88 105.87,418.80 C106.69,415.72 107.52,412.43 108.34,408.94 C109.16,405.45 110.14,402.23 110.80,397.86 C111.46,393.50 111.77,386.91 112.28,382.75 C112.79,378.59 113.30,376.38 113.88,372.89 C114.45,369.40 115.11,365.39 115.73,361.80 C116.35,358.21 116.96,354.41 117.58,351.33 C118.20,348.25 118.71,345.68 119.43,343.32 C120.15,340.96 121.17,338.64 121.89,337.16 C122.61,335.68 123.08,335.02 123.74,334.45 C124.40,333.88 125.15,333.67 125.83,333.71 C126.51,333.75 127.12,334.02 127.80,334.70 C128.48,335.38 129.24,336.65 129.90,337.78 C130.56,338.91 131.03,340.03 131.75,341.47 C132.47,342.91 133.39,344.76 134.21,346.40 C135.03,348.04 135.85,349.89 136.67,351.33 C137.49,352.77 138.32,353.89 139.14,355.02 C139.96,356.15 140.78,357.07 141.60,358.10 C142.42,359.13 143.25,360.15 144.07,361.18 C144.89,362.21 145.71,363.13 146.53,364.26 C147.35,365.39 148.09,366.62 148.99,367.96 C149.90,369.29 151.05,370.78 151.96,372.27 C152.87,373.76 153.53,375.25 154.43,376.89 C155.34,378.53 156.48,380.74 157.39,382.13 C158.29,383.52 158.94,384.29 159.86,385.21 C160.79,386.13 161.91,386.80 162.94,387.67 C163.97,388.55 164.99,389.58 166.02,390.46 C167.05,391.34 168.18,392.00 169.10,392.93 C170.02,393.86 170.74,394.88 171.56,396.01 C172.38,397.14 173.20,398.47 174.02,399.70 C174.84,400.93 175.67,402.06 176.49,403.40 C177.31,404.73 178.13,406.27 178.95,407.71 C179.77,409.15 180.60,410.68 181.42,412.02 C182.24,413.36 183.06,414.49 183.88,415.72 C184.70,416.95 185.52,418.29 186.34,419.42 C187.16,420.55 187.88,421.47 188.81,422.50 C189.74,423.53 190.86,424.55 191.89,425.58 C192.92,426.61 193.94,427.53 194.97,428.66 C196.00,429.79 197.13,431.22 198.05,432.35 C198.97,433.48 199.69,434.40 200.51,435.43 C201.33,436.46 202.05,437.58 202.98,438.51 C203.91,439.44 205.03,440.36 206.06,440.98 C207.09,441.60 208.01,441.90 209.14,442.21 C210.27,442.52 211.60,442.69 212.83,442.83 C214.06,442.97 215.91,443.03 216.53,443.07" stroke="#f38a68" stroke-width="1"/>
<path d="M87.39,443.20 C88.01,443.14 89.86,443.16 91.09,442.83 C92.32,442.50 93.65,441.94 94.78,441.22 C95.91,440.50 96.83,439.68 97.86,438.51 C98.89,437.34 100.02,435.84 100.94,434.20 C101.86,432.56 102.59,431.02 103.41,428.66 C104.23,426.30 105.05,423.11 105.87,420.03 C106.69,416.95 107.52,413.67 108.34,410.18 C109.16,406.69 110.08,403.25 110.80,399.09 C111.52,394.93 112.03,388.75 112.65,385.21 C113.27,381.66 113.89,380.08 114.50,377.82 C115.11,375.56 115.62,373.30 116.34,371.66 C117.06,370.02 117.89,368.82 118.81,367.96 C119.73,367.10 120.97,366.58 121.89,366.48 C122.81,366.38 123.43,366.78 124.35,367.34 C125.27,367.89 126.40,369.15 127.43,369.81 C128.46,370.47 129.48,371.19 130.51,371.29 C131.54,371.39 132.66,371.09 133.59,370.43 C134.52,369.77 135.24,368.78 136.06,367.34 C136.88,365.90 137.70,363.75 138.52,361.80 C139.34,359.85 140.17,357.69 140.99,355.64 C141.81,353.59 142.63,351.23 143.45,349.48 C144.27,347.74 145.09,346.09 145.91,345.17 C146.73,344.25 147.47,343.79 148.38,343.94 C149.28,344.09 150.49,345.06 151.34,346.09 C152.19,347.12 152.80,348.51 153.50,350.10 C154.20,351.69 154.89,353.89 155.54,355.64 C156.19,357.38 156.77,358.93 157.39,360.57 C158.01,362.21 158.62,363.86 159.24,365.50 C159.86,367.14 160.37,368.58 161.09,370.43 C161.81,372.28 162.73,374.74 163.55,376.59 C164.37,378.44 165.20,379.97 166.02,381.51 C166.84,383.05 167.25,383.52 168.48,385.83 C169.71,388.14 172.18,392.97 173.41,395.39 C174.64,397.81 175.05,398.78 175.87,400.32 C176.69,401.86 177.52,403.09 178.34,404.63 C179.16,406.17 179.98,408.02 180.80,409.56 C181.62,411.10 182.44,412.43 183.26,413.87 C184.08,415.31 184.91,416.91 185.73,418.18 C186.55,419.45 187.37,420.48 188.19,421.51 C189.01,422.54 189.73,423.46 190.66,424.34 C191.59,425.22 192.71,426.09 193.74,426.81 C194.77,427.53 195.79,428.04 196.82,428.66 C197.85,429.28 198.87,429.85 199.90,430.51 C200.93,431.17 201.95,431.88 202.98,432.60 C204.01,433.32 205.03,434.04 206.06,434.82 C207.09,435.60 208.11,436.50 209.14,437.28 C210.17,438.06 211.19,438.88 212.22,439.50 C213.25,440.12 214.17,440.53 215.30,440.98 C216.43,441.43 217.76,441.90 218.99,442.21 C220.22,442.52 221.46,442.69 222.69,442.83 C223.92,442.97 225.77,443.03 226.39,443.07" stroke="#a458ff" stroke-width="1"/>
</g>
<line x1="88.5" y1="443.45" x2="227.6" y2="443.45" stroke="#a860ff" stroke-width="1.15"/>
<rect x="81.5" y="333.7" width="145.0" height="113.80000000000001" fill="none" stroke="#4a4a4a" stroke-width="1"/>
<line x1="76.0" y1="443.30" x2="81.5" y2="443.30" stroke="#5a5a5a" stroke-width="1"/>
<line x1="76.0" y1="417.70" x2="81.5" y2="417.70" stroke="#5a5a5a" stroke-width="1"/>
<line x1="76.0" y1="392.10" x2="81.5" y2="392.10" stroke="#5a5a5a" stroke-width="1"/>
<line x1="76.0" y1="366.50" x2="81.5" y2="366.50" stroke="#5a5a5a" stroke-width="1"/>
<line x1="76.0" y1="340.90" x2="81.5" y2="340.90" stroke="#5a5a5a" stroke-width="1"/>
<text transform="translate(70.5,443.30) rotate(-90) scale(1,1.08)" text-anchor="middle" font-size="9" fill="#111">0.0</text>
<text transform="translate(70.5,417.70) rotate(-90) scale(1,1.08)" text-anchor="middle" font-size="9" fill="#111">0.2</text>
<text transform="translate(70.5,392.10) rotate(-90) scale(1,1.08)" text-anchor="middle" font-size="9" fill="#111">0.4</text>
<text transform="translate(70.5,366.50) rotate(-90) scale(1,1.08)" text-anchor="middle" font-size="9" fill="#111">0.6</text>
<text transform="translate(70.5,340.90) rotate(-90) scale(1,1.08)" text-anchor="middle" font-size="9" fill="#111">0.8</text>
<line x1="101.40" y1="447.5" x2="101.40" y2="453.0" stroke="#5a5a5a" stroke-width="1"/>
<text x="101.40" y="466.6" text-anchor="middle" font-size="9" fill="#111">2.0</text>
<line x1="124.38" y1="447.5" x2="124.38" y2="453.0" stroke="#5a5a5a" stroke-width="1"/>
<text x="124.38" y="466.6" text-anchor="middle" font-size="9" fill="#111">2.5</text>
<line x1="147.36" y1="447.5" x2="147.36" y2="453.0" stroke="#5a5a5a" stroke-width="1"/>
<text x="147.36" y="466.6" text-anchor="middle" font-size="9" fill="#111">3.0</text>
<line x1="170.34" y1="447.5" x2="170.34" y2="453.0" stroke="#5a5a5a" stroke-width="1"/>
<text x="170.34" y="466.6" text-anchor="middle" font-size="9" fill="#111">3.5</text>
<line x1="193.32" y1="447.5" x2="193.32" y2="453.0" stroke="#5a5a5a" stroke-width="1"/>
<text x="193.32" y="466.6" text-anchor="middle" font-size="9" fill="#111">4.0</text>
<line x1="216.30" y1="447.5" x2="216.30" y2="453.0" stroke="#5a5a5a" stroke-width="1"/>
<text x="216.30" y="466.6" text-anchor="middle" font-size="9" fill="#111">4.5</text>
<text transform="translate(54,394.6) rotate(-90)" text-anchor="middle" font-weight="bold" font-size="12.2" fill="#111">Density</text>
<text x="116.5" y="482.7" font-weight="bold" font-size="11.95" fill="#111">HITChip (Log 10)</text>
<clipPath id="c32"><rect x="272.9" y="339.3" width="140.20000000000005" height="109.0"/></clipPath>
<g clip-path="url(#c32)" fill="none" stroke-width="1" stroke-linejoin="round">
<path d="M282.09,444.21 C282.70,444.11 284.55,443.90 285.78,443.59 C287.01,443.28 288.25,442.87 289.48,442.36 C290.71,441.85 291.95,441.23 293.18,440.51 C294.41,439.79 295.64,438.97 296.87,438.05 C298.10,437.13 299.34,436.20 300.57,434.97 C301.80,433.74 303.03,432.20 304.26,430.66 C305.49,429.12 306.83,427.48 307.96,425.73 C309.09,423.98 310.01,422.13 311.04,420.18 C312.07,418.23 313.09,415.97 314.12,414.02 C315.15,412.07 316.17,410.12 317.20,408.48 C318.23,406.84 319.25,405.40 320.28,404.17 C321.31,402.94 322.33,402.22 323.36,401.09 C324.39,399.96 325.51,398.72 326.44,397.39 C327.37,396.06 328.09,394.93 328.91,393.08 C329.73,391.23 330.45,388.75 331.37,386.28 C332.29,383.81 333.42,381.04 334.45,378.27 C335.48,375.50 336.55,372.63 337.53,369.65 C338.50,366.67 339.58,362.77 340.30,360.41 C341.02,358.05 341.29,356.97 341.85,355.48 C342.42,353.99 343.07,352.81 343.69,351.48 C344.31,350.15 344.92,348.61 345.54,347.47 C346.16,346.33 346.67,345.36 347.39,344.64 C348.11,343.92 349.04,343.24 349.86,343.16 C350.68,343.08 351.60,343.64 352.32,344.15 C353.04,344.66 353.55,345.27 354.17,346.24 C354.79,347.21 355.40,348.50 356.02,349.94 C356.63,351.38 357.25,353.12 357.86,354.86 C358.48,356.61 359.09,358.25 359.71,360.41 C360.33,362.57 360.94,365.34 361.56,367.80 C362.18,370.26 362.79,372.62 363.41,375.19 C364.03,377.76 364.59,380.27 365.26,383.20 C365.93,386.13 366.59,389.88 367.41,392.76 C368.23,395.64 369.31,398.57 370.18,400.47 C371.05,402.37 371.83,403.21 372.65,404.17 C373.47,405.13 374.29,405.64 375.11,406.26 C375.93,406.88 376.76,407.18 377.58,407.86 C378.40,408.54 379.22,409.30 380.04,410.33 C380.86,411.36 381.69,412.58 382.51,414.02 C383.33,415.46 384.15,417.20 384.97,418.95 C385.79,420.70 386.61,422.65 387.43,424.50 C388.25,426.35 389.08,428.30 389.90,430.04 C390.72,431.79 391.54,433.53 392.36,434.97 C393.18,436.41 393.90,437.64 394.83,438.67 C395.75,439.70 396.78,440.45 397.91,441.13 C399.04,441.81 400.37,442.32 401.60,442.73 C402.83,443.14 404.07,443.36 405.30,443.59 C406.53,443.82 408.38,444.01 408.99,444.09" stroke="#7aae48" stroke-width="1"/>
<path d="M275.93,444.21 C276.55,444.04 278.39,443.63 279.62,443.22 C280.85,442.81 282.09,442.41 283.32,441.75 C284.55,441.09 285.79,440.27 287.02,439.28 C288.25,438.29 289.48,437.06 290.71,435.83 C291.94,434.60 293.18,433.26 294.41,431.89 C295.64,430.51 296.87,429.06 298.10,427.58 C299.33,426.10 300.57,424.52 301.80,423.02 C303.03,421.52 304.27,420.02 305.50,418.58 C306.73,417.14 307.96,415.76 309.19,414.39 C310.42,413.01 311.66,411.62 312.89,410.33 C314.12,409.04 315.36,407.76 316.59,406.63 C317.82,405.50 319.05,404.37 320.28,403.55 C321.51,402.73 322.85,402.42 323.98,401.70 C325.11,400.98 326.14,400.27 327.06,399.24 C327.98,398.21 328.90,396.88 329.52,395.54 C330.13,394.20 330.03,392.96 330.75,391.21 C331.47,389.46 332.80,387.21 333.83,385.05 C334.86,382.89 335.88,380.53 336.91,378.27 C337.94,376.01 339.18,373.25 340.00,371.50 C340.82,369.75 341.34,368.83 341.85,367.80 C342.36,366.77 342.66,366.06 343.07,365.34 C343.48,364.62 343.69,364.42 344.31,363.49 C344.93,362.56 345.85,360.82 346.78,359.79 C347.70,358.76 348.73,357.94 349.86,357.33 C350.99,356.71 352.42,356.16 353.55,356.10 C354.68,356.04 355.70,356.45 356.63,356.96 C357.56,357.47 358.28,358.09 359.10,359.18 C359.92,360.27 360.74,361.85 361.56,363.49 C362.38,365.13 363.20,366.87 364.02,369.03 C364.84,371.19 365.67,373.86 366.49,376.43 C367.31,379.00 368.08,381.45 368.95,384.43 C369.82,387.41 370.90,391.32 371.72,394.30 C372.54,397.28 373.21,400.16 373.88,402.32 C374.55,404.48 375.11,405.61 375.73,407.25 C376.35,408.89 376.96,410.54 377.58,412.18 C378.20,413.82 378.71,415.36 379.43,417.10 C380.15,418.85 381.07,420.80 381.89,422.65 C382.71,424.50 383.53,426.55 384.35,428.19 C385.17,429.83 386.00,431.18 386.82,432.51 C387.64,433.84 388.36,435.07 389.28,436.20 C390.20,437.33 391.33,438.46 392.36,439.28 C393.39,440.10 394.31,440.56 395.44,441.13 C396.57,441.70 397.91,442.32 399.14,442.73 C400.37,443.14 401.39,443.36 402.83,443.59 C404.27,443.82 406.94,444.01 407.76,444.09" stroke="#f38a68" stroke-width="1"/>
<path d="M273.46,441.13 C274.08,441.03 275.93,440.86 277.16,440.51 C278.39,440.16 279.63,439.75 280.86,439.03 C282.09,438.31 283.32,437.49 284.55,436.20 C285.78,434.91 287.12,433.12 288.25,431.27 C289.38,429.42 290.30,427.47 291.33,425.11 C292.36,422.75 293.49,419.67 294.41,417.10 C295.33,414.53 296.05,412.17 296.87,409.71 C297.69,407.25 298.52,404.94 299.34,402.32 C300.16,399.70 300.98,396.56 301.80,393.99 C302.62,391.42 303.34,388.80 304.26,386.90 C305.18,385.00 306.31,383.68 307.34,382.59 C308.37,381.50 309.50,380.78 310.43,380.37 C311.36,379.96 311.97,379.92 312.89,380.12 C313.81,380.32 314.94,380.88 315.97,381.60 C317.00,382.32 318.02,383.55 319.05,384.43 C320.08,385.31 321.10,386.18 322.13,386.90 C323.16,387.62 324.08,388.24 325.21,388.75 C326.34,389.26 327.68,389.67 328.91,389.98 C330.14,390.29 331.37,390.49 332.60,390.59 C333.83,390.69 335.07,390.67 336.30,390.59 C337.53,390.51 338.77,390.39 340.00,390.10 C341.23,389.81 342.46,389.36 343.69,388.87 C344.92,388.38 346.16,387.71 347.39,387.14 C348.62,386.56 349.86,385.87 351.09,385.42 C352.32,384.97 353.65,384.45 354.78,384.43 C355.91,384.41 356.94,384.79 357.86,385.30 C358.79,385.81 359.51,386.63 360.33,387.51 C361.15,388.39 362.07,389.56 362.79,390.59 C363.51,391.62 363.92,392.34 364.64,393.68 C365.36,395.02 366.28,396.87 367.10,398.62 C367.92,400.37 368.75,402.32 369.57,404.17 C370.39,406.02 371.21,407.86 372.03,409.71 C372.85,411.56 373.68,413.41 374.50,415.26 C375.32,417.11 376.14,419.06 376.96,420.80 C377.78,422.55 378.61,424.19 379.43,425.73 C380.25,427.27 381.07,428.71 381.89,430.04 C382.71,431.38 383.43,432.51 384.35,433.74 C385.27,434.97 386.40,436.40 387.43,437.43 C388.46,438.46 389.38,439.18 390.51,439.90 C391.64,440.62 392.98,441.24 394.21,441.75 C395.44,442.26 396.68,442.67 397.91,442.98 C399.14,443.29 400.16,443.40 401.60,443.59 C403.04,443.77 404.68,443.99 406.53,444.09 C408.38,444.19 411.66,444.19 412.69,444.21" stroke="#a458ff" stroke-width="1"/>
</g>
<line x1="273.5" y1="444.3" x2="413.6" y2="444.3" stroke="#a860ff" stroke-width="1.15"/>
<rect x="273.4" y="339.3" width="139.20000000000005" height="109.0" fill="none" stroke="#4a4a4a" stroke-width="1"/>
<line x1="267.9" y1="444.20" x2="273.4" y2="444.20" stroke="#5a5a5a" stroke-width="1"/>
<line x1="267.9" y1="422.28" x2="273.4" y2="422.28" stroke="#5a5a5a" stroke-width="1"/>
<line x1="267.9" y1="400.36" x2="273.4" y2="400.36" stroke="#5a5a5a" stroke-width="1"/>
<line x1="267.9" y1="378.44" x2="273.4" y2="378.44" stroke="#5a5a5a" stroke-width="1"/>
<line x1="267.9" y1="356.52" x2="273.4" y2="356.52" stroke="#5a5a5a" stroke-width="1"/>
<text transform="translate(261,444.20) rotate(-90) scale(1,1.08)" text-anchor="middle" font-size="9" fill="#111">0.0</text>
<text transform="translate(261,422.28) rotate(-90) scale(1,1.08)" text-anchor="middle" font-size="9" fill="#111">0.2</text>
<text transform="translate(261,400.36) rotate(-90) scale(1,1.08)" text-anchor="middle" font-size="9" fill="#111">0.4</text>
<text transform="translate(261,378.44) rotate(-90) scale(1,1.08)" text-anchor="middle" font-size="9" fill="#111">0.6</text>
<text transform="translate(261,356.52) rotate(-90) scale(1,1.08)" text-anchor="middle" font-size="9" fill="#111">0.8</text>
<line x1="282.70" y1="448.3" x2="282.70" y2="453.8" stroke="#5a5a5a" stroke-width="1"/>
<text x="282.70" y="466.75" text-anchor="middle" font-size="9" fill="#111">3.0</text>
<line x1="304.88" y1="448.3" x2="304.88" y2="453.8" stroke="#5a5a5a" stroke-width="1"/>
<text x="304.88" y="466.75" text-anchor="middle" font-size="9" fill="#111">3.5</text>
<line x1="327.06" y1="448.3" x2="327.06" y2="453.8" stroke="#5a5a5a" stroke-width="1"/>
<text x="327.06" y="466.75" text-anchor="middle" font-size="9" fill="#111">4.0</text>
<line x1="349.24" y1="448.3" x2="349.24" y2="453.8" stroke="#5a5a5a" stroke-width="1"/>
<text x="349.24" y="466.75" text-anchor="middle" font-size="9" fill="#111">4.5</text>
<line x1="371.42" y1="448.3" x2="371.42" y2="453.8" stroke="#5a5a5a" stroke-width="1"/>
<text x="371.42" y="466.75" text-anchor="middle" font-size="9" fill="#111">5.0</text>
<line x1="393.60" y1="448.3" x2="393.60" y2="453.8" stroke="#5a5a5a" stroke-width="1"/>
<text x="393.60" y="466.75" text-anchor="middle" font-size="9" fill="#111">5.5</text>
<text transform="translate(245.9,392.9) rotate(-90)" text-anchor="middle" font-weight="bold" font-size="9.2" fill="#111">Density</text>
<text x="306.75" y="483.6" font-weight="bold" font-size="11.95" fill="#111">HITChip (Log 10)</text>
<clipPath id="c33"><rect x="461.0" y="338.5" width="142.0" height="110.5"/></clipPath>
<g clip-path="url(#c33)" fill="none" stroke-width="1" stroke-linejoin="round">
<path d="M461.46,439.90 C462.08,439.39 463.93,438.05 465.16,436.82 C466.39,435.59 467.63,434.15 468.86,432.51 C470.09,430.87 471.32,428.81 472.55,426.96 C473.78,425.11 475.02,423.27 476.25,421.42 C477.48,419.57 478.71,417.72 479.94,415.87 C481.17,414.02 482.41,412.14 483.64,410.33 C484.87,408.52 486.11,406.47 487.34,405.03 C488.57,403.59 489.80,402.52 491.03,401.70 C492.26,400.88 493.50,400.31 494.73,400.10 C495.96,399.90 497.20,400.04 498.43,400.47 C499.66,400.90 500.89,401.81 502.12,402.69 C503.35,403.57 504.59,404.80 505.82,405.77 C507.05,406.74 508.28,407.76 509.51,408.48 C510.74,409.20 512.08,409.77 513.21,410.08 C514.34,410.39 515.26,410.49 516.29,410.33 C517.32,410.17 518.24,409.92 519.37,409.10 C520.50,408.28 521.84,406.84 523.07,405.40 C524.30,403.96 525.53,402.11 526.76,400.47 C527.99,398.83 529.52,396.89 530.46,395.54 C531.40,394.19 531.54,393.67 532.39,392.37 C533.24,391.07 534.50,389.03 535.54,387.75 C536.58,386.47 537.59,385.49 538.62,384.67 C539.65,383.85 540.67,383.23 541.70,382.82 C542.73,382.41 543.75,382.24 544.78,382.20 C545.81,382.16 546.83,382.26 547.86,382.57 C548.89,382.88 549.91,383.39 550.94,384.05 C551.97,384.71 552.99,385.59 554.02,386.51 C555.05,387.43 556.07,388.46 557.10,389.59 C558.13,390.72 559.25,392.09 560.18,393.29 C561.10,394.49 561.83,395.48 562.65,396.78 C563.47,398.08 564.29,399.55 565.11,401.09 C565.93,402.63 566.76,404.38 567.58,406.02 C568.40,407.66 569.22,409.30 570.04,410.94 C570.86,412.58 571.69,414.23 572.51,415.87 C573.33,417.51 574.15,419.16 574.97,420.80 C575.79,422.44 576.61,424.09 577.43,425.73 C578.25,427.37 579.08,429.12 579.90,430.66 C580.72,432.20 581.54,433.64 582.36,434.97 C583.18,436.31 584.01,437.64 584.83,438.67 C585.65,439.70 586.37,440.41 587.29,441.13 C588.21,441.85 589.24,442.51 590.37,442.98 C591.50,443.45 592.63,443.71 594.07,443.96 C595.51,444.21 597.55,444.36 598.99,444.46 C600.43,444.56 602.07,444.56 602.69,444.58" stroke="#a458ff" stroke-width="1"/>
<path d="M466.39,444.58 C467.01,444.52 468.86,444.38 470.09,444.21 C471.32,444.04 472.55,444.00 473.78,443.59 C475.01,443.18 476.25,442.37 477.48,441.75 C478.71,441.13 479.95,440.52 481.18,439.90 C482.41,439.28 483.64,438.67 484.87,438.05 C486.10,437.43 487.34,436.71 488.57,436.20 C489.80,435.69 491.03,435.38 492.26,434.97 C493.49,434.56 494.83,434.25 495.96,433.74 C497.09,433.23 498.01,432.77 499.04,431.89 C500.07,431.01 501.09,429.77 502.12,428.44 C503.15,427.11 504.17,425.46 505.20,423.88 C506.23,422.30 507.25,420.59 508.28,418.95 C509.31,417.31 510.33,415.76 511.36,414.02 C512.39,412.27 513.41,410.23 514.44,408.48 C515.47,406.74 516.49,405.19 517.52,403.55 C518.55,401.91 519.57,400.26 520.60,398.62 C521.63,396.98 522.86,395.51 523.68,393.70 C524.50,391.89 524.61,390.18 525.53,387.75 C526.45,385.32 528.09,381.48 529.23,379.12 C530.37,376.76 531.44,375.84 532.39,373.58 C533.34,371.32 534.10,368.24 534.93,365.57 C535.76,362.90 536.57,360.02 537.39,357.56 C538.21,355.10 539.04,352.73 539.86,350.78 C540.68,348.83 541.50,347.09 542.32,345.86 C543.14,344.63 543.86,344.01 544.78,343.39 C545.70,342.77 546.93,342.26 547.86,342.16 C548.79,342.06 549.51,342.16 550.33,342.78 C551.15,343.40 551.97,344.42 552.79,345.86 C553.61,347.30 554.44,349.25 555.26,351.40 C556.08,353.55 556.90,356.12 557.72,358.79 C558.54,361.46 559.36,364.44 560.18,367.42 C561.00,370.40 561.83,373.48 562.65,376.66 C563.47,379.84 564.39,383.26 565.11,386.51 C565.83,389.76 566.24,393.53 566.96,396.16 C567.68,398.80 568.61,400.27 569.43,402.32 C570.25,404.37 571.07,406.43 571.89,408.48 C572.71,410.53 573.53,412.48 574.35,414.64 C575.17,416.80 576.00,419.26 576.82,421.42 C577.64,423.58 578.46,425.63 579.28,427.58 C580.10,429.53 580.93,431.48 581.75,433.12 C582.57,434.76 583.39,436.20 584.21,437.43 C585.03,438.66 585.85,439.69 586.67,440.51 C587.49,441.33 588.21,441.85 589.14,442.36 C590.07,442.87 591.09,443.28 592.22,443.59 C593.35,443.90 594.57,444.06 595.91,444.21 C597.25,444.35 599.51,444.42 600.23,444.46" stroke="#f38a68" stroke-width="1"/>
<path d="M461.46,444.58 C462.08,444.48 463.93,444.33 465.16,443.96 C466.39,443.59 467.63,442.94 468.86,442.36 C470.09,441.79 471.32,441.06 472.55,440.51 C473.78,439.95 475.02,439.44 476.25,439.03 C477.48,438.62 478.71,438.25 479.94,438.05 C481.17,437.85 482.41,437.80 483.64,437.80 C484.87,437.80 486.11,437.91 487.34,438.05 C488.57,438.19 489.90,438.57 491.03,438.67 C492.16,438.77 493.08,438.88 494.11,438.67 C495.14,438.46 496.16,438.15 497.19,437.43 C498.22,436.71 499.24,435.68 500.27,434.35 C501.30,433.02 502.32,431.18 503.35,429.43 C504.38,427.69 505.40,425.73 506.43,423.88 C507.46,422.03 508.48,420.19 509.51,418.34 C510.54,416.49 511.56,414.64 512.59,412.79 C513.62,410.94 514.75,409.00 515.67,407.25 C516.59,405.50 517.32,403.96 518.14,402.32 C518.96,400.68 519.57,399.82 520.60,397.39 C521.63,394.96 523.17,390.80 524.30,387.75 C525.43,384.70 526.39,382.00 527.38,379.12 C528.37,376.25 529.38,372.76 530.23,370.50 C531.08,368.24 531.68,367.32 532.46,365.57 C533.24,363.82 534.11,361.66 534.93,360.02 C535.75,358.38 536.57,356.94 537.39,355.71 C538.21,354.48 539.04,353.35 539.86,352.63 C540.68,351.91 541.50,351.54 542.32,351.40 C543.14,351.26 543.96,351.46 544.78,351.77 C545.60,352.08 546.43,352.59 547.25,353.25 C548.07,353.91 548.89,354.68 549.71,355.71 C550.53,356.74 551.36,357.97 552.18,359.41 C553.00,360.85 553.82,362.49 554.64,364.34 C555.46,366.19 556.28,368.45 557.10,370.50 C557.92,372.55 558.75,374.50 559.57,376.66 C560.39,378.82 561.21,381.17 562.03,383.43 C562.85,385.69 563.68,388.29 564.50,390.21 C565.32,392.13 566.14,393.22 566.96,394.93 C567.78,396.64 568.61,398.62 569.43,400.47 C570.25,402.32 571.07,404.07 571.89,406.02 C572.71,407.97 573.53,410.13 574.35,412.18 C575.17,414.23 576.00,416.29 576.82,418.34 C577.64,420.39 578.46,422.55 579.28,424.50 C580.10,426.45 580.93,428.30 581.75,430.04 C582.57,431.79 583.39,433.53 584.21,434.97 C585.03,436.41 585.85,437.64 586.67,438.67 C587.49,439.70 588.21,440.41 589.14,441.13 C590.07,441.85 591.09,442.51 592.22,442.98 C593.35,443.45 594.57,443.71 595.91,443.96 C597.25,444.21 599.51,444.38 600.23,444.46" stroke="#7aae48" stroke-width="1"/>
</g>
<line x1="461.5" y1="444.8" x2="602.5" y2="444.8" stroke="#96c878" stroke-width="1.2"/>
<rect x="461.5" y="338.5" width="141.0" height="110.5" fill="none" stroke="#4a4a4a" stroke-width="1"/>
<line x1="456.0" y1="444.60" x2="461.5" y2="444.60" stroke="#5a5a5a" stroke-width="1"/>
<line x1="456.0" y1="418.14" x2="461.5" y2="418.14" stroke="#5a5a5a" stroke-width="1"/>
<line x1="456.0" y1="391.68" x2="461.5" y2="391.68" stroke="#5a5a5a" stroke-width="1"/>
<line x1="456.0" y1="365.22" x2="461.5" y2="365.22" stroke="#5a5a5a" stroke-width="1"/>
<text transform="translate(449.8,444.60) rotate(-90) scale(1,1.08)" text-anchor="middle" font-size="9" fill="#111">0.0</text>
<text transform="translate(449.8,418.14) rotate(-90) scale(1,1.08)" text-anchor="middle" font-size="9" fill="#111">0.2</text>
<text transform="translate(449.8,391.68) rotate(-90) scale(1,1.08)" text-anchor="middle" font-size="9" fill="#111">0.4</text>
<text transform="translate(449.8,365.22) rotate(-90) scale(1,1.08)" text-anchor="middle" font-size="9" fill="#111">0.6</text>
<line x1="484.30" y1="449.0" x2="484.30" y2="454.5" stroke="#5a5a5a" stroke-width="1"/>
<text x="484.30" y="467.7" text-anchor="middle" font-size="9" fill="#111">3</text>
<line x1="520.27" y1="449.0" x2="520.27" y2="454.5" stroke="#5a5a5a" stroke-width="1"/>
<text x="520.27" y="467.7" text-anchor="middle" font-size="9" fill="#111">4</text>
<line x1="556.24" y1="449.0" x2="556.24" y2="454.5" stroke="#5a5a5a" stroke-width="1"/>
<text x="556.24" y="467.7" text-anchor="middle" font-size="9" fill="#111">5</text>
<line x1="592.21" y1="449.0" x2="592.21" y2="454.5" stroke="#5a5a5a" stroke-width="1"/>
<text x="592.21" y="467.7" text-anchor="middle" font-size="9" fill="#111">6</text>
<text transform="translate(434.5,391.9) rotate(-90)" text-anchor="middle" font-weight="bold" font-size="12" fill="#111">Density</text>
<text x="496.4" y="483.6" font-weight="bold" font-size="11.95" fill="#111">HITChip (Log 10)</text>
<line x1="615" y1="198.3" x2="631" y2="198.3" stroke="#6400ff" stroke-width="2.3"/>
<text x="636.8" y="201.60" font-weight="bold" font-size="12" fill="#111">Group A</text>
<line x1="615" y1="213.2" x2="631" y2="213.2" stroke="#f07820" stroke-width="2.3"/>
<text x="635.1" y="216.70" font-weight="bold" font-size="12" fill="#111">Group B</text>
<line x1="615" y1="227.3" x2="631" y2="227.3" stroke="#66a020" stroke-width="2.3"/>
<text x="635.1" y="230.80" font-weight="bold" font-size="12" fill="#111">Group C</text>
<line x1="615" y1="241.2" x2="631" y2="241.2" stroke="#48a0ff" stroke-width="2.3"/>
<text x="635.1" y="244.80" font-weight="bold" font-size="12" fill="#111">Group D</text>
<line x1="614.2" y1="362.5" x2="630.1" y2="362.5" stroke="#6400ff" stroke-width="2.3"/>
<text x="634.1" y="366.20" font-weight="bold" font-size="12" fill="#111">Summer</text>
<line x1="614.2" y1="377.5" x2="630.1" y2="377.5" stroke="#f07820" stroke-width="2.3"/>
<text x="633.5" y="381.20" font-weight="bold" font-size="12" fill="#111">Autumn</text>
<line x1="614.2" y1="391.75" x2="630.1" y2="391.75" stroke="#66a020" stroke-width="2.3"/>
<text x="633.5" y="395.45" font-weight="bold" font-size="12" fill="#111">Winter</text>
</svg>
</body></html>
